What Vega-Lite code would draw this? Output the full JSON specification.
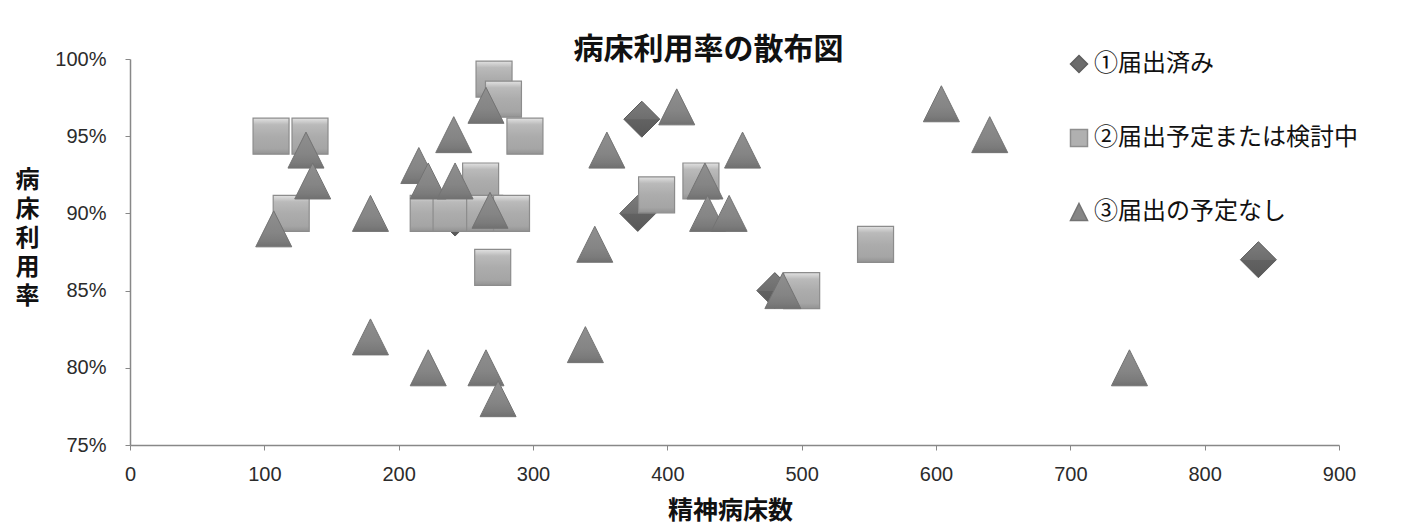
{
  "$schema": "https://vega.github.io/schema/vega-lite/v6.json",
  "autosize": {"type": "none"},
  "padding": {"left": 130, "top": 59, "right": 80, "bottom": 79},
  "width": 1209,
  "height": 386,
  "background": "#ffffff",
  "title": {
    "text": "病床利用率の散布図",
    "anchor": "middle",
    "frame": "group",
    "font": "Noto Sans CJK JP",
    "fontSize": 30,
    "fontWeight": "bold",
    "color": "#111111",
    "dx": -26,
    "dy": 31,
    "baseline": "middle",
    "offset": 0
  },
  "data": {
    "values": [
      {"group": "①届出済み", "beds": 242, "rate": 0.897},
      {"group": "①届出済み", "beds": 381, "rate": 0.961},
      {"group": "①届出済み", "beds": 378, "rate": 0.900},
      {"group": "①届出済み", "beds": 480, "rate": 0.850},
      {"group": "①届出済み", "beds": 840, "rate": 0.870},
      {"group": "②届出予定または検討中", "beds": 105, "rate": 0.950},
      {"group": "②届出予定または検討中", "beds": 134, "rate": 0.950},
      {"group": "②届出予定または検討中", "beds": 120, "rate": 0.900},
      {"group": "②届出予定または検討中", "beds": 271, "rate": 0.987},
      {"group": "②届出予定または検討中", "beds": 278, "rate": 0.974},
      {"group": "②届出予定または検討中", "beds": 294, "rate": 0.950},
      {"group": "②届出予定または検討中", "beds": 261, "rate": 0.921},
      {"group": "②届出予定または検討中", "beds": 222, "rate": 0.900},
      {"group": "②届出予定または検討中", "beds": 239, "rate": 0.900},
      {"group": "②届出予定または検討中", "beds": 264, "rate": 0.900},
      {"group": "②届出予定または検討中", "beds": 284, "rate": 0.900},
      {"group": "②届出予定または検討中", "beds": 270, "rate": 0.865},
      {"group": "②届出予定または検討中", "beds": 425, "rate": 0.921},
      {"group": "②届出予定または検討中", "beds": 392, "rate": 0.912},
      {"group": "②届出予定または検討中", "beds": 555, "rate": 0.880},
      {"group": "②届出予定または検討中", "beds": 500, "rate": 0.850},
      {"group": "③届出の予定なし", "beds": 107, "rate": 0.890},
      {"group": "③届出の予定なし", "beds": 131, "rate": 0.941},
      {"group": "③届出の予定なし", "beds": 136, "rate": 0.921},
      {"group": "③届出の予定なし", "beds": 179, "rate": 0.900},
      {"group": "③届出の予定なし", "beds": 179, "rate": 0.820},
      {"group": "③届出の予定なし", "beds": 222, "rate": 0.800},
      {"group": "③届出の予定なし", "beds": 265, "rate": 0.800},
      {"group": "③届出の予定なし", "beds": 274, "rate": 0.780},
      {"group": "③届出の予定なし", "beds": 339, "rate": 0.815},
      {"group": "③届出の予定なし", "beds": 265, "rate": 0.970},
      {"group": "③届出の予定なし", "beds": 241, "rate": 0.951},
      {"group": "③届出の予定なし", "beds": 215, "rate": 0.931},
      {"group": "③届出の予定なし", "beds": 222, "rate": 0.921},
      {"group": "③届出の予定なし", "beds": 242, "rate": 0.921},
      {"group": "③届出の予定なし", "beds": 268, "rate": 0.902},
      {"group": "③届出の予定なし", "beds": 346, "rate": 0.880},
      {"group": "③届出の予定なし", "beds": 355, "rate": 0.941},
      {"group": "③届出の予定なし", "beds": 407, "rate": 0.969},
      {"group": "③届出の予定なし", "beds": 456, "rate": 0.941},
      {"group": "③届出の予定なし", "beds": 428, "rate": 0.921},
      {"group": "③届出の予定なし", "beds": 430, "rate": 0.900},
      {"group": "③届出の予定なし", "beds": 446, "rate": 0.900},
      {"group": "③届出の予定なし", "beds": 486, "rate": 0.850},
      {"group": "③届出の予定なし", "beds": 604, "rate": 0.971},
      {"group": "③届出の予定なし", "beds": 640, "rate": 0.951},
      {"group": "③届出の予定なし", "beds": 744, "rate": 0.800}
    ]
  },
  "encoding": {
    "x": {
      "field": "beds",
      "type": "quantitative",
      "scale": {"domain": [0, 900], "nice": false, "zero": false},
      "axis": {
        "values": [0, 100, 200, 300, 400, 500, 600, 700, 800, 900],
        "title": "精神病床数",
        "titleFont": "Noto Sans CJK JP",
        "titleFontSize": 25,
        "titleFontWeight": "bold",
        "titleColor": "#111111",
        "titleX": 600,
        "titleY": 65,
        "titleBaseline": "middle",
        "titleAlign": "center",
        "labelFont": "Liberation Sans",
        "labelFontSize": 20,
        "labelColor": "#2b2b2b",
        "labelPadding": 14,
        "tickSize": 5,
        "tickColor": "#888888",
        "domainColor": "#888888",
        "domainWidth": 1.5,
        "grid": false,
        "labelFlush": false
      }
    },
    "y": {
      "field": "rate",
      "type": "quantitative",
      "scale": {"domain": [0.75, 1.0], "nice": false, "zero": false},
      "axis": {
        "values": [0.75, 0.8, 0.85, 0.9, 0.95, 1.0],
        "format": ".0%",
        "title": ["病", "床", "利", "用", "率"],
        "titleAngle": 0,
        "titleFont": "Noto Sans CJK JP",
        "titleFontSize": 24,
        "titleFontWeight": "bold",
        "titleColor": "#111111",
        "titleLineHeight": 29,
        "titleX": -103,
        "titleY": 121,
        "titleAlign": "center",
        "titleBaseline": "middle",
        "labelFont": "Liberation Sans",
        "labelFontSize": 20,
        "labelColor": "#2b2b2b",
        "labelPadding": 19,
        "tickSize": 5,
        "tickColor": "#888888",
        "domainColor": "#888888",
        "domainWidth": 1.5,
        "grid": false,
        "labelFlush": false
      }
    }
  },
  "layer": [
    {
      "mark": {"type": "point", "filled": true, "size": 1296, "opacity": 0, "strokeWidth": 1},
      "encoding": {
        "shape": {
          "field": "group",
          "type": "nominal",
          "scale": {
            "domain": ["①届出済み", "②届出予定または検討中", "③届出の予定なし"],
            "range": ["M-1,0L0,-1L1,0L0,1Z", "M-1,-1L1,-1L1,1L-1,1Z", "M0,-1L1,1L-1,1Z"]
          },
          "legend": {
            "title": null,
            "orient": "none",
            "legendX": 937,
            "legendY": -7,
            "padding": 0,
            "symbolSize": 289,
            "symbolOpacity": 1,
            "labelFont": "Noto Sans CJK JP",
            "labelFontSize": 24,
            "labelColor": "#111111",
            "labelOffset": 3,
            "rowPadding": 50,
            "labelLimit": 400
          }
        },
        "fill": {
          "field": "group",
          "type": "nominal",
          "scale": {
            "domain": ["①届出済み", "②届出予定または検討中", "③届出の予定なし"],
            "range": ["#6c6c6c", "#b0b0b0", "#868686"]
          }
        },
        "stroke": {
          "field": "group",
          "type": "nominal",
          "scale": {
            "domain": ["①届出済み", "②届出予定または検討中", "③届出の予定なし"],
            "range": ["#5e5e5e", "#8e8e8e", "#737373"]
          }
        }
      }
    },
    {
      "transform": [{"filter": "datum.group === '①届出済み'"}],
      "mark": {
        "type": "point", "filled": true, "size": 1296, "strokeWidth": 1, "opacity": 1,
        "shape": "M-1,0L0,-1L1,0L0,1Z",
        "stroke": "#5a5a5a",
        "fill": {"gradient": "linear", "x1": 0, "y1": 0, "x2": 0, "y2": 1, "stops": [{"offset": 0, "color": "#7c7c7c"}, {"offset": 0.5, "color": "#6e6e6e"}, {"offset": 0.51, "color": "#626262"}, {"offset": 1, "color": "#585858"}]}
      }
    },
    {
      "transform": [{"filter": "datum.group === '②届出予定または検討中'"}],
      "mark": {
        "type": "point", "filled": true, "size": 1296, "strokeWidth": 1.2, "opacity": 1,
        "shape": "M-1,-1L1,-1L1,1L-1,1Z",
        "stroke": "#8c8c8c",
        "fill": {"gradient": "linear", "x1": 0, "y1": 0, "x2": 0, "y2": 1, "stops": [{"offset": 0, "color": "#e2e2e2"}, {"offset": 0.18, "color": "#bababa"}, {"offset": 0.5, "color": "#acacac"}, {"offset": 0.85, "color": "#a5a5a5"}, {"offset": 1, "color": "#939393"}]}
      }
    },
    {
      "transform": [{"filter": "datum.group === '③届出の予定なし'"}],
      "mark": {
        "type": "point", "filled": true, "size": 1296, "strokeWidth": 1, "opacity": 1,
        "shape": "M0,-1L1,1L-1,1Z",
        "stroke": "#737373",
        "fill": {"gradient": "linear", "x1": 0, "y1": 0, "x2": 0, "y2": 1, "stops": [{"offset": 0, "color": "#8f8f8f"}, {"offset": 0.6, "color": "#858585"}, {"offset": 0.85, "color": "#7b7b7b"}, {"offset": 1, "color": "#707070"}]}
      }
    }
  ],
  "config": {
    "view": {"stroke": null}
  }
}
